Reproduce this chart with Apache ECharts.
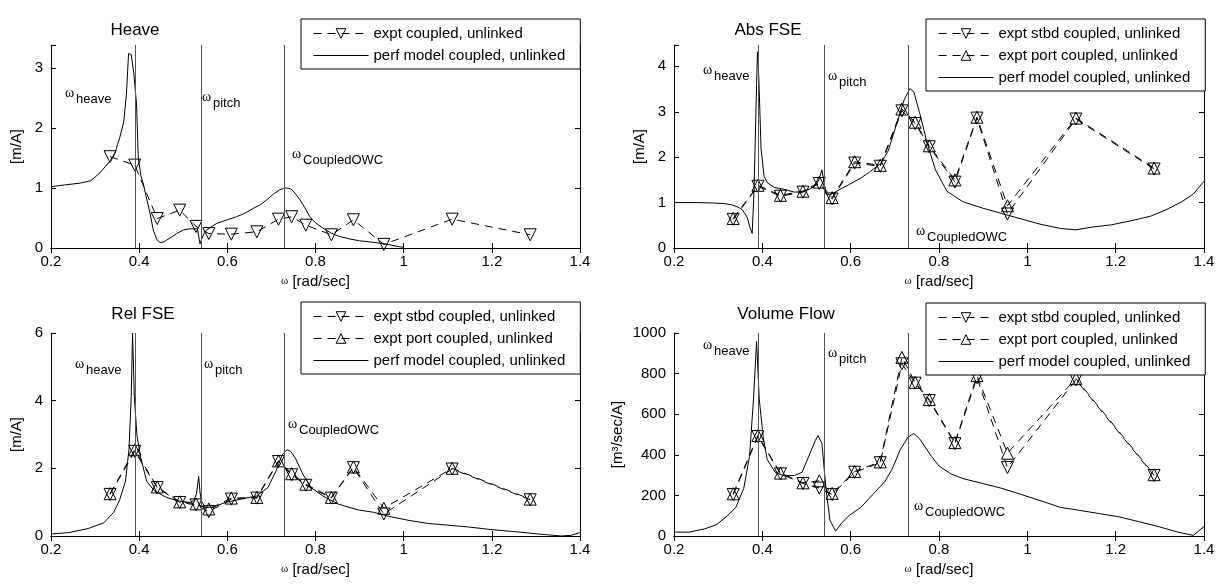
<!DOCTYPE html>
<html>
<head>
<meta charset="utf-8">
<title>Coupled, unlinked responses</title>
<script src="https://cdn.jsdelivr.net/npm/echarts@6/dist/echarts.min.js"></script>
<style>
    html, body { margin: 0; padding: 0; background: #fff; }
    #chart { width: 1224px; height: 587px; }
</style>
</head>
<body>
<div id="chart"></div>
<script>
// 试验频率点 (rad/sec)
const exptW = [0.334, 0.390, 0.441, 0.492, 0.529, 0.558, 0.609, 0.667, 0.716, 0.746, 0.778, 0.836, 0.886, 0.955, 1.110, 1.287]

// Heave
const heaveExpt = [1.52, 1.38, 0.49, 0.63, 0.36, 0.24, 0.23, 0.27, 0.48, 0.52, 0.38, 0.22, 0.47, 0.06, 0.48, 0.22]
const heaveModelW = [0.20, 0.22, 0.266, 0.29, 0.311, 0.334, 0.345, 0.356, 0.365, 0.371, 0.376, 0.382, 0.388, 0.394, 0.398, 0.404, 0.410, 0.416, 0.424, 0.432, 0.440, 0.447, 0.455, 0.462, 0.475, 0.485, 0.500, 0.515, 0.532, 0.535, 0.538, 0.542, 0.547, 0.553, 0.565, 0.576, 0.600, 0.621, 0.640, 0.659, 0.675, 0.689, 0.705, 0.719, 0.727, 0.734, 0.742, 0.749, 0.757, 0.765, 0.776, 0.787, 0.800, 0.817, 0.835, 0.855, 0.878, 0.900, 0.925, 0.946, 0.970, 0.991, 1.000]
const heaveModel = [1.02, 1.04, 1.08, 1.12, 1.25, 1.45, 1.58, 1.84, 2.10, 2.55, 3.24, 3.22, 2.90, 2.40, 1.50, 1.20, 1.05, 0.85, 0.60, 0.30, 0.14, 0.09, 0.10, 0.13, 0.19, 0.24, 0.30, 0.32, 0.32, 0.20, 0.07, 0.15, 0.24, 0.30, 0.36, 0.41, 0.47, 0.52, 0.58, 0.66, 0.72, 0.80, 0.90, 0.97, 0.99, 1.00, 0.99, 0.95, 0.88, 0.80, 0.67, 0.52, 0.42, 0.33, 0.25, 0.19, 0.15, 0.12, 0.10, 0.08, 0.05, 0.02, 0.01]

// Abs FSE
const absStbd = [0.63, 1.36, 1.14, 1.23, 1.42, 1.08, 1.87, 1.80, 3.02, 2.74, 2.23, 1.45, 2.86, 0.75, 2.84, 1.74]
const absPort = [0.65, 1.38, 1.16, 1.25, 1.45, 1.11, 1.90, 1.82, 3.06, 2.77, 2.25, 1.50, 2.88, 0.93, 2.86, 1.76]
const absModelW = [0.20, 0.25, 0.29, 0.313, 0.331, 0.345, 0.355, 0.366, 0.372, 0.377, 0.381, 0.384, 0.387, 0.389, 0.391, 0.393, 0.397, 0.404, 0.411, 0.428, 0.446, 0.473, 0.490, 0.508, 0.520, 0.528, 0.535, 0.538, 0.544, 0.553, 0.570, 0.597, 0.623, 0.641, 0.668, 0.685, 0.703, 0.721, 0.734, 0.743, 0.756, 0.774, 0.792, 0.818, 0.854, 0.898, 0.942, 0.986, 1.031, 1.075, 1.110, 1.146, 1.190, 1.235, 1.279, 1.314, 1.350, 1.376, 1.400]
const absModel = [1.00, 1.00, 0.99, 0.98, 0.95, 0.90, 0.84, 0.67, 0.45, 0.32, 1.20, 2.40, 3.60, 4.32, 4.00, 3.47, 2.20, 1.58, 1.44, 1.33, 1.30, 1.23, 1.24, 1.30, 1.38, 1.50, 1.72, 1.55, 1.19, 1.17, 1.26, 1.40, 1.54, 1.66, 1.86, 2.14, 2.70, 3.26, 3.51, 3.44, 2.98, 2.28, 1.72, 1.25, 1.02, 0.88, 0.76, 0.64, 0.52, 0.43, 0.40, 0.46, 0.51, 0.60, 0.70, 0.84, 1.02, 1.19, 1.47]

// Rel FSE
const relStbd = [1.23, 2.50, 1.43, 0.99, 0.92, 0.72, 1.09, 1.12, 2.20, 1.81, 1.50, 1.12, 2.02, 0.65, 1.98, 1.07]
const relPort = [1.25, 2.55, 1.45, 1.01, 0.95, 0.80, 1.12, 1.14, 2.22, 1.84, 1.53, 1.14, 2.04, 0.82, 2.00, 1.09]
const relModelW = [0.20, 0.24, 0.284, 0.32, 0.342, 0.355, 0.369, 0.377, 0.382, 0.385, 0.389, 0.395, 0.404, 0.417, 0.435, 0.462, 0.488, 0.515, 0.524, 0.530, 0.535, 0.538, 0.541, 0.550, 0.568, 0.595, 0.630, 0.666, 0.692, 0.710, 0.724, 0.735, 0.744, 0.755, 0.772, 0.790, 0.817, 0.852, 0.897, 0.932, 0.967, 1.012, 1.056, 1.100, 1.145, 1.198, 1.251, 1.305, 1.358, 1.380, 1.400]
const relModel = [0.06, 0.10, 0.22, 0.39, 0.70, 1.04, 1.62, 2.58, 4.12, 6.00, 4.12, 2.97, 2.29, 1.62, 1.33, 1.14, 1.04, 0.99, 1.05, 1.25, 1.76, 1.30, 1.04, 0.85, 0.85, 0.99, 1.09, 1.18, 1.43, 1.91, 2.39, 2.55, 2.50, 2.28, 1.81, 1.43, 1.18, 0.94, 0.77, 0.70, 0.58, 0.46, 0.37, 0.32, 0.27, 0.19, 0.13, 0.06, 0.00, 0.02, 0.10]

// Volume Flow
const volStbd = [204, 490, 306, 259, 236, 204, 314, 361, 848, 753, 667, 455, 780, 337, 769, 298]
const volPort = [208, 495, 310, 262, 272, 210, 318, 365, 880, 757, 672, 460, 790, 408, 775, 302]
const volModelW = [0.20, 0.234, 0.269, 0.296, 0.322, 0.340, 0.358, 0.371, 0.380, 0.387, 0.393, 0.402, 0.411, 0.429, 0.447, 0.473, 0.490, 0.508, 0.520, 0.526, 0.535, 0.544, 0.553, 0.566, 0.579, 0.597, 0.623, 0.650, 0.677, 0.694, 0.712, 0.730, 0.743, 0.756, 0.783, 0.800, 0.827, 0.854, 0.898, 0.942, 0.987, 1.031, 1.075, 1.119, 1.164, 1.208, 1.252, 1.296, 1.341, 1.376, 1.400]
const volModel = [19, 19, 35, 55, 102, 141, 235, 392, 675, 958, 675, 487, 377, 314, 298, 298, 314, 408, 470, 495, 455, 235, 78, 24, 63, 102, 141, 204, 267, 330, 424, 487, 505, 479, 392, 345, 306, 283, 259, 235, 204, 173, 141, 126, 110, 94, 71, 47, 19, 3, 47]

// 特征频率 (竖线)
const omegaLines = [0.387, 0.537, 0.728]

const xTicks = { min: 0.2, max: 1.4, interval: 0.2 }
const FONT = '"Liberation Sans", Arial, sans-serif'
const SERIF = '"Liberation Serif", "DejaVu Serif", serif'

const zip = (xs, ys) => xs.map((x, i) => [x, ys[i]])

const NAME_EXPT = 'expt coupled, unlinked'
const NAME_STBD = 'expt stbd coupled, unlinked'
const NAME_PORT = 'expt port coupled, unlinked'
const NAME_MODEL = 'perf model coupled, unlinked'

// 四个子图位置
const grids = [
    { left: 51, top: 45, width: 529, height: 203 },
    { left: 674, top: 45, width: 530, height: 203 },
    { left: 51, top: 333, width: 529, height: 203 },
    { left: 674, top: 333, width: 530, height: 203 },
]

const axisLine = { show: true, lineStyle: { color: '#000', width: 1 } }
const tick = { show: true, inside: true, length: 5, lineStyle: { color: '#000' } }

const xAxes = []
const yAxes = []
const yCfg = [
    { max: 3.38, interval: 1, name: '[m/A]', gap: 27 },
    { max: 4.47, interval: 1, name: '[m/A]', gap: 27 },
    { max: 6, interval: 2, name: '[m/A]', gap: 27 },
    { max: 1000, interval: 200, name: '[m\u00b3/sec/A]', gap: 49 },
]
grids.forEach((g, i) => {
    xAxes.push({
        gridIndex: i, type: 'value', ...xTicks, position: 'bottom',
        axisLine, axisTick: tick, splitLine: { show: false },
        axisLabel: { color: '#000', fontSize: 15, fontFamily: FONT, margin: 6 },
        name: '{w|ω} [rad/sec]', nameLocation: 'middle', nameGap: 26,
        nameTextStyle: {
            color: '#000', fontSize: 15, fontFamily: FONT,
            rich: { w: { fontSize: 11, fontFamily: SERIF, color: '#000' } },
        },
    })
    xAxes.push({
        gridIndex: i, type: 'value', ...xTicks, position: 'top',
        axisLine, axisTick: tick, axisLabel: { show: false }, splitLine: { show: false },
    })
    const c = yCfg[i]
    yAxes.push({
        gridIndex: i, type: 'value', min: 0, max: c.max, interval: c.interval, position: 'left',
        axisLine, axisTick: tick, splitLine: { show: false },
        axisLabel: {
            color: '#000', fontSize: 15, fontFamily: FONT, margin: 8,
            formatter: (v) => (Math.abs(v / c.interval - Math.round(v / c.interval)) < 1e-6 ? String(v) : ''),
        },
        name: c.name, nameLocation: 'middle', nameGap: c.gap, nameRotate: 90,
        nameTextStyle: { color: '#000', fontSize: 15, fontFamily: FONT },
    })
    yAxes.push({
        gridIndex: i, type: 'value', min: 0, max: c.max, interval: c.interval, position: 'right',
        axisLine, axisTick: tick, axisLabel: { show: false }, splitLine: { show: false },
    })
})

const exptSeries = (i, name, w, vals, down) => ({
    name, type: 'line', xAxisIndex: 2 * i, yAxisIndex: 2 * i,
    data: zip(w, vals),
    symbol: 'triangle', symbolSize: 12, symbolRotate: down ? 180 : 0,
    showAllSymbol: true,
    lineStyle: { color: '#000', width: 1, type: [8, 6] },
    itemStyle: { color: 'rgba(255,255,255,0)', borderColor: '#000', borderWidth: 1 },
    z: 3,
})

const modelSeries = (i, w, vals) => ({
    name: NAME_MODEL, type: 'line', xAxisIndex: 2 * i, yAxisIndex: 2 * i,
    data: zip(w, vals), symbol: 'none',
    lineStyle: { color: '#000', width: 1 },
    itemStyle: { color: '#000' },
    markLine: {
        silent: true, symbol: ['none', 'none'], label: { show: false },
        lineStyle: { color: '#555', width: 1, type: 'solid' },
        data: omegaLines.map((v) => ({ xAxis: v })),
    },
})

const series = [
    exptSeries(0, NAME_EXPT, exptW, heaveExpt, true),
    modelSeries(0, heaveModelW, heaveModel),
    exptSeries(1, NAME_STBD, exptW, absStbd, true),
    exptSeries(1, NAME_PORT, exptW, absPort, false),
    modelSeries(1, absModelW, absModel),
    exptSeries(2, NAME_STBD, exptW, relStbd, true),
    exptSeries(2, NAME_PORT, exptW, relPort, false),
    modelSeries(2, relModelW, relModel),
    exptSeries(3, NAME_STBD, exptW, volStbd, true),
    exptSeries(3, NAME_PORT, exptW, volPort, false),
    modelSeries(3, volModelW, volModel),
]

const legendBase = {
    orient: 'vertical', align: 'left', backgroundColor: '#fff',
    borderColor: '#000', borderWidth: 1, borderRadius: 0,
    padding: [7, 15, 6, 12], itemWidth: 55, itemHeight: 12, itemGap: 7,
    selectedMode: false,
    lineStyle: { width: 1 },
    itemStyle: { borderWidth: 1 },
    textStyle: { color: '#000', fontSize: 15, fontFamily: FONT },
}
// 模型曲线图例只画线
const modelItem = { name: NAME_MODEL, itemStyle: { opacity: 0 } }
const legend = [
    { ...legendBase, left: 301, top: 19, data: [NAME_EXPT, modelItem] },
    { ...legendBase, left: 926, top: 19, data: [NAME_STBD, NAME_PORT, modelItem] },
    { ...legendBase, left: 301, top: 302, data: [NAME_STBD, NAME_PORT, modelItem] },
    { ...legendBase, left: 926, top: 303, data: [NAME_STBD, NAME_PORT, modelItem] },
]

// 标题和 ω 标注
const titleText = (x, y, text) => ({
    type: 'text', x, y,
    style: { text, fill: '#000', font: '17px ' + FONT, align: 'center', verticalAlign: 'middle' },
})
const omegaText = (x, y, sub) => [
    { type: 'text', x, y, style: { text: 'ω', fill: '#000', font: '14px ' + SERIF, align: 'left', verticalAlign: 'middle' } },
    { type: 'text', x: x + 11, y: y + 6, style: { text: sub, fill: '#000', font: '13px ' + FONT, align: 'left', verticalAlign: 'middle' } },
]
const graphic = [
    titleText(135, 30, 'Heave'),
    titleText(768, 30, 'Abs FSE'),
    titleText(143, 314, 'Rel FSE'),
    titleText(786, 314, 'Volume Flow'),
    ...omegaText(65, 93, 'heave'),
    ...omegaText(202, 97, 'pitch'),
    ...omegaText(292, 154, 'CoupledOWC'),
    ...omegaText(703, 70, 'heave'),
    ...omegaText(828, 76, 'pitch'),
    ...omegaText(916, 231, 'CoupledOWC'),
    ...omegaText(75, 364, 'heave'),
    ...omegaText(204, 364, 'pitch'),
    ...omegaText(288, 424, 'CoupledOWC'),
    ...omegaText(703, 345, 'heave'),
    ...omegaText(828, 353, 'pitch'),
    ...omegaText(914, 506, 'CoupledOWC'),
]

let option = {
    animation: false,
    backgroundColor: '#fff',
    grid: grids,
    xAxis: xAxes,
    yAxis: yAxes,
    legend,
    series,
    graphic,
}

let myChart = echarts.init(document.getElementById('chart'))
myChart.setOption(option)
</script>
</body>
</html>
